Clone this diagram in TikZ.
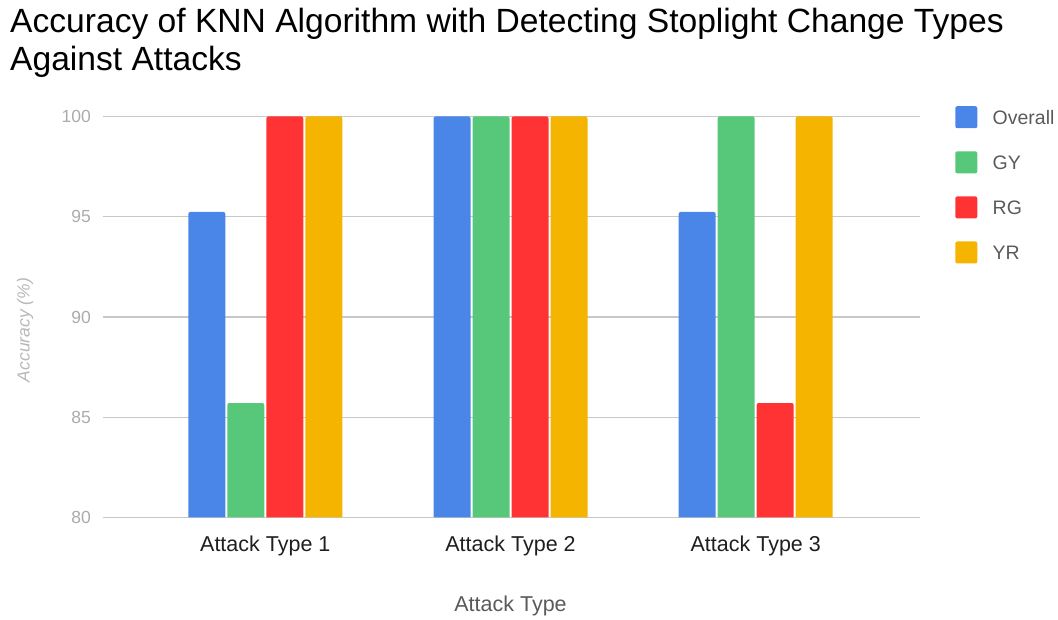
\documentclass[tikz,border=0pt]{standalone}
\usepackage{fontspec}
\setmainfont{Liberation Sans}
\usepackage{tikz}
\usetikzlibrary{positioning}

\definecolor{overallblue}{HTML}{4A86E8}
\definecolor{gygreen}{HTML}{57C87A}
\definecolor{rgred}{HTML}{FF3333}
\definecolor{yryellow}{HTML}{F4B400}
\definecolor{gridgray}{HTML}{C8C8C8}
\definecolor{ticktext}{HTML}{ABABAB}
\definecolor{axistext}{HTML}{5A5A5A}

\begin{document}
\begin{tikzpicture}[
  x=1pt, y=1pt,
  grid/.style={draw=gridgray, line width=1.4pt},
  tick/.style={anchor=east, inner sep=0pt, text=ticktext, font=\fontsize{17.5}{20}\selectfont},
  cat/.style={anchor=base, inner sep=0pt, text=black!88, font=\fontsize{21.5}{24}\selectfont},
  swatch/.style={rectangle, rounded corners=2pt, minimum size=22pt, inner sep=0pt},
  legtext/.style={inner sep=0pt, text=axistext, font=\fontsize{19.5}{22}\selectfont}
]
  \useasboundingbox (0,0) rectangle (1058,619);

  % title
  \node[anchor=north west, inner sep=0pt, align=left, font=\fontsize{33.6}{38.5}\selectfont] (title) at (10,611.5)
    {Accuracy of KNN Algorithm with Detecting Stoplight Change Types\\Against Attacks};

  % plot area: y is the value above 80
  \begin{scope}[shift={(0,101.5)}, y=20.05pt]
    \foreach \v in {80,85,90,95,100} {
      \draw[grid] (103,\v-80) -- (920,\v-80);
      \node[tick] (tick\v) at (91,\v-80) {\v};
    }
    \foreach \c/\a/\b/\d/\e in {265.3/95.24/85.71/100/100, 510.5/100/100/100/100, 755.7/95.24/100/85.71/100} {
      \fill[overallblue] (\c-77,0) [rounded corners=2pt] -- (\c-77,\a-80) -- (\c-40,\a-80) -- (\c-40,0);
      \fill[gygreen] (\c-38,0) [rounded corners=2pt] -- (\c-38,\b-80) -- (\c-1,\b-80) -- (\c-1,0);
      \fill[rgred] (\c+1,0) [rounded corners=2pt] -- (\c+1,\d-80) -- (\c+38,\d-80) -- (\c+38,0);
      \fill[yryellow] (\c+40,0) [rounded corners=2pt] -- (\c+40,\e-80) -- (\c+77,\e-80) -- (\c+77,0);
    }
  \end{scope}

  % category labels and axis titles
  \node[cat] (cat1) at (265.3,67.3) {Attack Type 1};
  \node[cat] (cat2) at (510.5,67.3) {Attack Type 2};
  \node[cat] (cat3) at (755.7,67.3) {Attack Type 3};
  \node[cat, text=axistext] (xtitle) at (510.5,7.3) {Attack Type};
  \node[rotate=90, inner sep=0pt, text=ticktext!85, font=\fontsize{17.5}{20}\selectfont\itshape] (ytitle) at (25,289) {Accuracy (\%)};

  % legend
  \node[swatch, fill=overallblue] (swoverall) at (966.3,501.8) {};
  \node[swatch, fill=gygreen, below=22.7pt of swoverall] (swgy) {};
  \node[swatch, fill=rgred, below=22.7pt of swgy] (swrg) {};
  \node[swatch, fill=yryellow, below=22.7pt of swrg] (swyr) {};
  \node[legtext, right=15pt of swoverall] (legoverall) {Overall};
  \node[legtext, right=15pt of swgy] (leggy) {GY};
  \node[legtext, right=15pt of swrg] (legrg) {RG};
  \node[legtext, right=15pt of swyr] (legyr) {YR};
\end{tikzpicture}
\end{document}
